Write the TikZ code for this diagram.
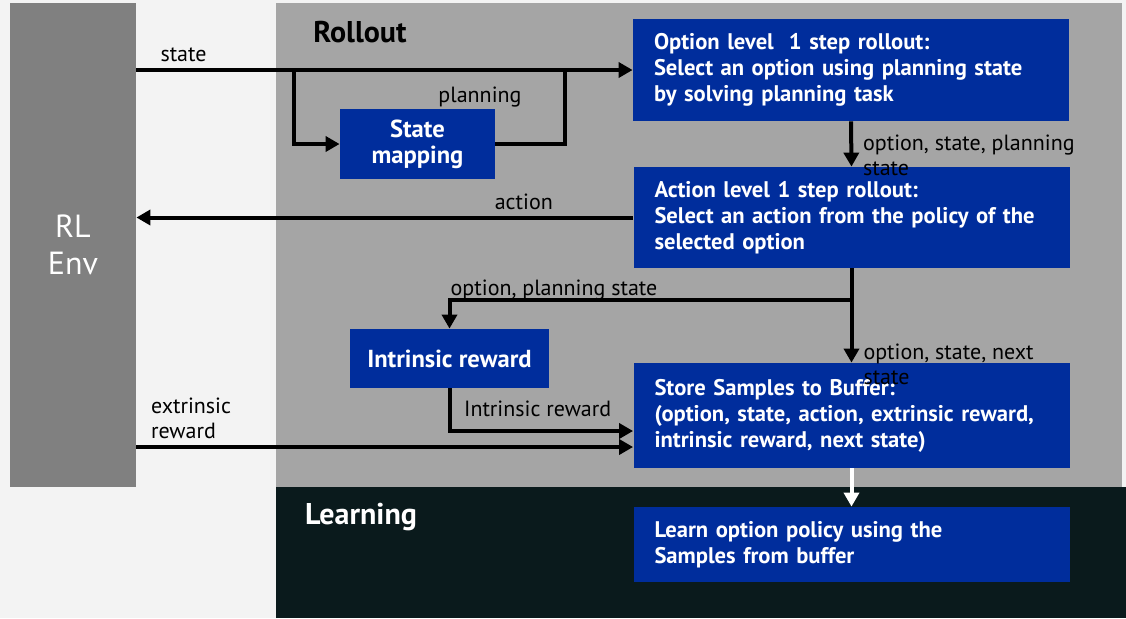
\documentclass[tikz,border=0pt]{standalone}
\usepackage{fontspec}
\setmainfont{PT Sans}
\usepackage{xcolor}
\usepackage{tikz}
\usetikzlibrary{
arrows.meta,
positioning,
calc
}
\definecolor{pagebg}{HTML}{F3F3F3}
\definecolor{envgrey}{HTML}{808080}
\definecolor{rolloutgrey}{HTML}{A5A5A5}
\definecolor{learndark}{HTML}{0A1A1C}
\definecolor{ibmblue}{HTML}{002D9C}

\begin{document}
\begin{tikzpicture}[
x=0.5pt, y=-0.5pt,
box/.style={
fill=ibmblue,
text=white,
font=\bfseries\fontsize{11.3}{13}\selectfont,
inner ysep=0pt
},
stepbox/.style={
box,
inner xsep=10.5pt,
text width=197pt,
align=left
},
smallbox/.style={
box,
font=\bfseries\fontsize{12.3}{13}\selectfont,
inner sep=0pt,
align=center
},
lbl/.style={font=\fontsize{11}{12.5}\selectfont, inner sep=1pt, align=left},
title/.style={font=\bfseries\fontsize{15}{17}\selectfont},
line/.style={line width=2pt},
arrow/.style={line, -{Triangle[length=7pt,width=7.5pt]}}
]

\useasboundingbox (0,0) rectangle (1126,618);
\fill[pagebg] (0,0) rectangle (1126,618);

% panels
\fill[rolloutgrey] (276,3) rectangle (1122,487);
\fill[learndark] (276,487) rectangle (1126,618);
\node[title] (rollouttitle) at (360,32) {Rollout};
\node[title, text=white] (learntitle) at (361,517) {Learning};

% environment
\node[fill=envgrey, text=white, minimum width=63pt, minimum height=242pt,
align=center, font=\fontsize{16}{18.5}\selectfont] (env) at (73,245) {RL\\Env};

% boxes
\node[stepbox, minimum height=51pt] (option) at (851,70)
{Option level\ \ 1 step rollout:\\Select an option using planning state\\by solving planning task};
\node[stepbox, minimum height=50.5pt] (action) at (851.5,217.5)
{Action level 1 step rollout:\\Select an action from the policy of the\\selected option};
\node[stepbox, minimum height=52.5pt] (store) at (851.5,415.5)
{Store Samples to Buffer:\\(option, state, action, extrinsic reward,\\intrinsic reward, next state)};
\node[stepbox, minimum height=37.5pt] (learn) at (851.5,544.5)
{Learn option policy using the\\Samples from buffer};
\node[smallbox, minimum width=77.5pt, minimum height=35pt] (mapping) at (417.5,144) {State\\mapping};
\node[smallbox, minimum width=99.5pt, minimum height=29.5pt] (intrinsic) at (449.5,358.5) {Intrinsic reward};

% helper points
\coordinate (statesplit) at (294,70);
\coordinate (planjoin) at (565,70);
\coordinate (actsplit) at (851.5,300);
\coordinate (intrin) at ([yshift=-7.75pt]store.west);
\coordinate (extrin) at ([yshift=-15.75pt]store.west);

% connectors
\draw[arrow] (env.east |- option.west) -- node[lbl, above, pos=0.095, yshift=2pt] {state} (option.west);
\draw[arrow] (statesplit) |- (mapping.west);
\draw[line] (mapping.east) -| (planjoin);
\node[lbl] (planlbl) at (480,97) {planning};
\draw[arrow] (option.south) -- node[lbl, anchor=north west, pos=0.22, xshift=4pt] {option, state, planning\\state} (action.north);
\draw[arrow] (action.west) -- node[lbl, above, pos=0.22, yshift=2pt] {action} (env.east |- action.west);
\draw[arrow] (action.south) -- node[lbl, anchor=north west, pos=0.76, xshift=4pt] {option, state, next\\state} (store.north);
\draw[arrow] (actsplit) -| node[lbl, above, pos=0.37, yshift=-2pt] {option, planning state} (intrinsic.north);
\draw[arrow] (intrinsic.south) |- node[lbl, above, pos=0.74, yshift=5pt] {Intrinsic reward} (intrin);
\draw[arrow] (env.east |- extrin) -- node[lbl, above, pos=0.11, yshift=2pt] {extrinsic\\reward} (extrin);
\draw[arrow, white] (store.south) -- (learn.north);

\end{tikzpicture}
\end{document}
